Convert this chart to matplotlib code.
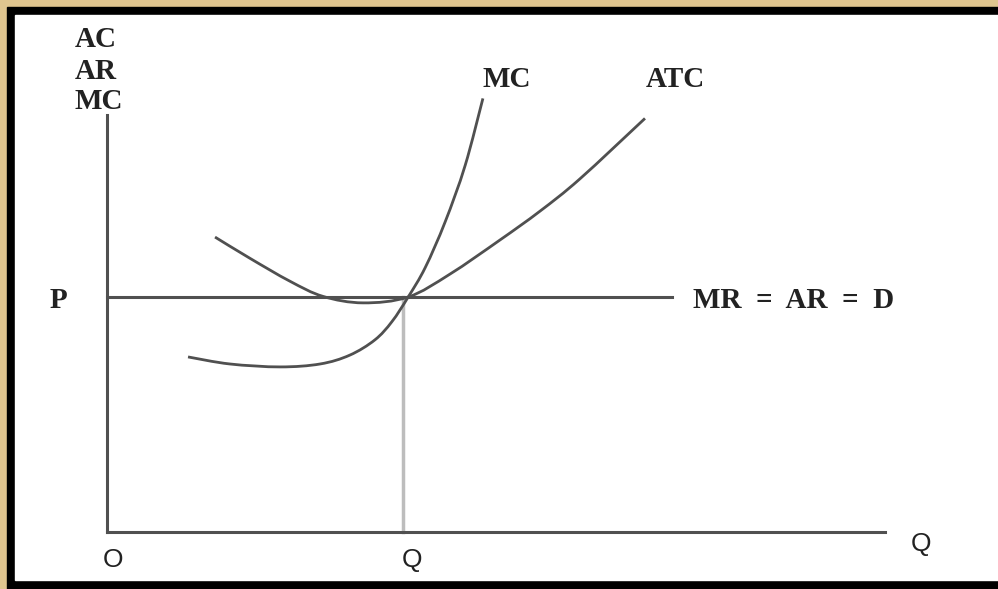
import matplotlib.pyplot as plt
from matplotlib.patches import Rectangle, PathPatch
from matplotlib.path import Path

# Perfect competition: firm in long-run equilibrium (schematic units)
mc_q = [10.95, 16.6, 23.4, 28.8, 32.8, 36.2, 38.5, 40.7, 43.0, 45.7, 48.4, 50.8]
mc_c = [14.9, 14.3, 14.05, 14.3, 15.05, 16.35, 17.9, 20.0, 22.5, 26.4, 31.2, 36.9]

atc_q = [14.6, 19.3, 24.7, 29.2, 34.6, 40.7, 46.35, 53.1, 58.5, 63.9, 72.7]
atc_c = [25.1, 23.3, 21.35, 20.05, 19.5, 20.0, 21.95, 24.85, 27.3, 30.05, 35.2]

price = 20.0       # P = MR = AR = D
quantity = 40.0    # Q where MC = ATC = P
mr_end = 76.4
x_axis_end = 105.1
y_axis_end = 35.5

y_labels = ["AC", "AR", "MC"]

gold = "#dfc58f"
line_col = "#505050"


def smooth_path(xs, ys):
    # catmull-rom through the read points, drawn as cubic bezier pieces
    pts = list(zip(xs, ys))
    pts = [pts[0]] + pts + [pts[-1]]
    verts = [pts[1]]
    codes = [Path.MOVETO]
    for i in range(1, len(pts) - 2):
        p0, p1, p2, p3 = pts[i - 1], pts[i], pts[i + 1], pts[i + 2]
        c1 = (p1[0] + (p2[0] - p0[0]) / 6, p1[1] + (p2[1] - p0[1]) / 6)
        c2 = (p2[0] - (p3[0] - p1[0]) / 6, p2[1] - (p3[1] - p1[1]) / 6)
        verts += [c1, c2, p2]
        codes += [Path.CURVE4] * 3
    return Path(verts, codes)


fig = plt.figure(figsize=(9.98, 5.89), dpi=100, facecolor=gold)
ax = fig.add_axes([0, 0, 1, 1])
ax.set_facecolor("none")
ax.axis("off")
# origin of the diagram sits at pixel (107, 532)
ax.set_xlim(-107 / 7.4, (998 - 107) / 7.4)
ax.set_ylim(-(589 - 532) / 11.75, 532 / 11.75)

# black frame and white sheet
ax.add_patch(Rectangle((7 / 998, 0), 1, (589 - 7) / 589, color="black",
                       transform=ax.transAxes, zorder=0))
ax.add_patch(Rectangle((15 / 998, 9 / 589), 1, (580 - 15) / 589, color="white",
                       transform=ax.transAxes, zorder=0))

# axes
ax.plot([0, 0], [0, y_axis_end], color=line_col, lw=2.2, zorder=2)
ax.plot([0, x_axis_end], [0, 0], color=line_col, lw=2.2, zorder=2)

# MR = AR = D and Q drop line
ax.plot([0, mr_end], [price, price], color=line_col, lw=2.2, zorder=2)
ax.plot([quantity, quantity], [0, price], color="#bdbdbd", lw=2.5, zorder=1)

# cost curves
ax.add_patch(PathPatch(smooth_path(mc_q, mc_c), fill=False, ec=line_col, lw=2.0, zorder=3))
ax.add_patch(PathPatch(smooth_path(atc_q, atc_c), fill=False, ec=line_col, lw=2.0, zorder=3))

serif = dict(family="Liberation Serif", weight="bold", fontsize=21, color="#222222")
sans = dict(family="Liberation Sans", fontsize=19, color="#222222")

for lab, yy in zip(y_labels, [41.9, 39.2, 36.6]):
    ax.text(-4.4, yy, lab, ha="left", va="center", **serif)

ax.text(-6.6, 19.7, "P", ha="center", va="center", **serif)
ax.text(54.0, 38.5, "MC", ha="center", va="center", **serif)
ax.text(76.8, 38.5, "ATC", ha="center", va="center", **serif)
ax.text(79.2, 19.7, "MR  =  AR  =  D", ha="left", va="center", **serif)

ax.text(0.8, -2.4, "O", ha="center", va="center", **sans)
ax.text(41.2, -2.4, "Q", ha="center", va="center", **sans)
ax.text(110.0, -1.0, "Q", ha="center", va="center", **sans)

fig.savefig("out.png", dpi=100, facecolor=gold)
